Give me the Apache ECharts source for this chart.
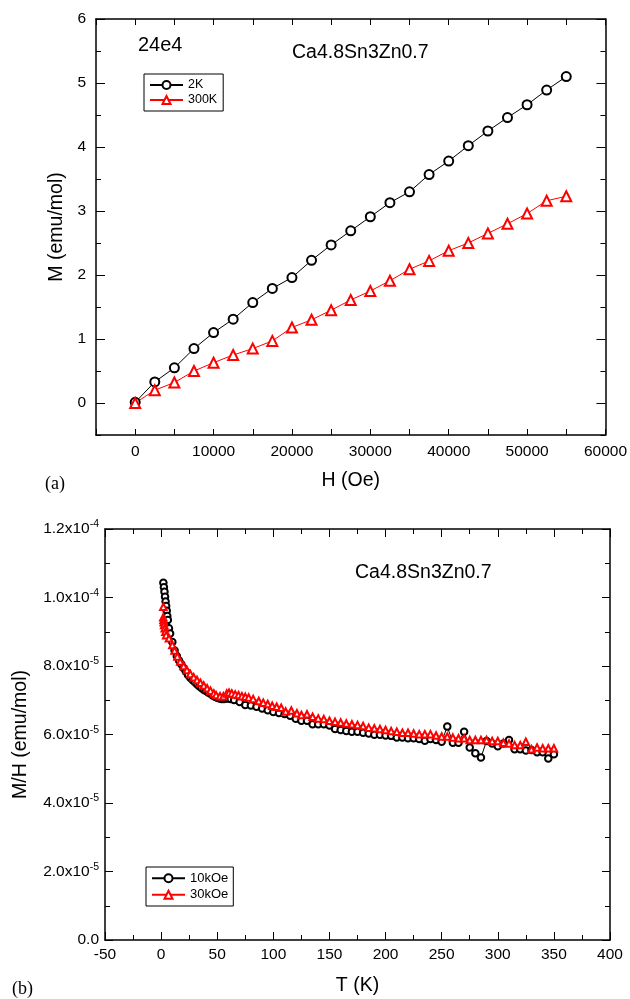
<!DOCTYPE html>
<html><head><meta charset="utf-8">
<script src="https://cdn.jsdelivr.net/npm/echarts@6/dist/echarts.min.js"></script>
<style>html,body{margin:0;padding:0;background:#fff}#c{width:630px;height:999px}</style>
</head><body><div id="c"></div>
<script>
// ---------- (a) M vs H ----------
const H_Oe = [0, 2500, 5000, 7500, 10000, 12500, 15000, 17500, 20000, 22500, 25000, 27500,
  30000, 32500, 35000, 37500, 40000, 42500, 45000, 47500, 50000, 52500, 55000];
const M_2K = [0.01, 0.33, 0.55, 0.85, 1.10, 1.31, 1.57, 1.79, 1.96, 2.23, 2.47, 2.69,
  2.91, 3.13, 3.30, 3.57, 3.78, 4.02, 4.25, 4.46, 4.66, 4.89, 5.10];
const M_300K = [0.00, 0.20, 0.32, 0.50, 0.63, 0.75, 0.85, 0.97, 1.18, 1.30, 1.45, 1.61,
  1.75, 1.91, 2.09, 2.22, 2.38, 2.50, 2.65, 2.80, 2.96, 3.16, 3.23];
const A_Y_MAJOR = [0, 1, 2, 3, 4, 5, 6];
const A_Y_MINOR = [-0.5, 0.5, 1.5, 2.5, 3.5, 4.5, 5.5];

// ---------- (b) M/H vs T (values in units of 1e-5 emu/mol) ----------
const T_10kOe = [2, 2.5, 3, 3.5, 4, 4.5, 5, 5.5, 6, 7, 8, 10, 12, 14, 16, 18, 20, 22, 24, 26, 28,
  30, 32, 34, 36, 38, 40, 42, 44, 46, 48, 50, 52, 54, 56, 58, 60, 62, 65, 70, 75, 80, 85, 90, 95,
  100, 105, 110, 115, 120,
  125, 130, 135, 140, 145, 150, 155, 160, 165, 170, 175, 180, 185, 190, 195, 200, 205, 210, 215,
  220, 225, 230, 235, 240, 245, 250, 255, 260, 265, 270, 275, 280, 285, 290, 295, 300, 305, 310,
  315, 320, 325, 330, 335, 340, 345, 350];
const MH_10kOe = [10.43, 10.30, 10.17, 10.02, 9.88, 9.75, 9.61, 9.46, 9.34, 9.10, 8.95, 8.70, 8.45,
  8.29, 8.16, 8.05, 7.94, 7.84, 7.74, 7.66, 7.59, 7.53, 7.47, 7.41, 7.36, 7.31, 7.27, 7.23, 7.19,
  7.14, 7.10, 7.07, 7.05, 7.04, 7.04, 7.05, 7.05, 7.04, 7.01, 6.95, 6.86, 6.85, 6.81, 6.76, 6.71,
  6.66, 6.63, 6.60, 6.55, 6.46,
  6.40, 6.40, 6.30, 6.30, 6.30, 6.26, 6.16, 6.13, 6.10, 6.08, 6.08, 6.05, 6.03, 5.99, 5.99, 5.97,
  5.96, 5.91, 5.91, 5.89, 5.89, 5.87, 5.82, 5.87, 5.84, 5.79, 6.23, 5.76, 5.76, 6.08, 5.62, 5.45,
  5.33, 5.81, 5.74, 5.66, 5.74, 5.84, 5.57, 5.57, 5.53, 5.55, 5.48, 5.48, 5.30, 5.42];
const T_30kOe = [2, 1.9, 2.1, 2.4, 2.7, 3.2, 3.8, 4.5, 7, 10, 12, 14.5, 17, 20, 23, 26, 29, 32,
  35, 38, 41, 44, 47, 49, 52.5, 55.5, 58.5, 60.5, 63, 66, 69, 72, 75, 78, 82, 87, 91, 95,
  99, 103, 107, 111, 116, 121,
  125, 130, 135, 140, 145, 150, 155, 160, 165, 170, 175, 180, 185, 190, 195, 200, 205, 210, 215,
  220, 225, 230, 235, 240, 245, 250, 255, 260, 265, 270, 275, 280, 285, 290, 295, 300, 305, 310,
  315, 320, 325, 330, 335, 340, 345, 350];
const MH_30kOe = [9.73, 9.42, 9.34, 9.28, 9.20, 9.10, 9.00, 8.90, 8.81, 8.61, 8.45, 8.28, 8.13,
  8.00, 7.88, 7.77, 7.67, 7.59, 7.51, 7.43, 7.35, 7.28, 7.20, 7.15, 7.12, 7.12, 7.20, 7.22,
  7.20, 7.17, 7.15, 7.12, 7.10, 7.08, 7.04, 6.98, 6.93, 6.89, 6.84, 6.81, 6.78, 6.67, 6.70, 6.62,
  6.57, 6.59, 6.52, 6.47, 6.45, 6.40, 6.37, 6.35, 6.32, 6.30, 6.28, 6.25, 6.20, 6.18, 6.16, 6.13,
  6.10, 6.08, 6.05, 6.05, 6.03, 6.01, 6.01, 6.01, 5.97, 5.94, 5.94, 5.91, 5.89, 5.89, 5.84, 5.84,
  5.84, 5.84, 5.81, 5.81, 5.76, 5.74, 5.69, 5.69, 5.79, 5.57, 5.62, 5.60, 5.60, 5.60];
const B_Y_TICKS = [0, 2, 4, 6, 8, 10, 12];
const B_Y_MANT = ['0.0', '2.0', '4.0', '6.0', '8.0', '1.0', '1.2'];
const B_Y_EXP = ['', '-5', '-5', '-5', '-5', '-4', '-4'];

const FONT = '"Liberation Sans", Arial, sans-serif';
const SERIF = '"Liberation Serif", "Times New Roman", serif';
const BLACK = '#000', RED = '#ff0000';

function lineAx(extra) {
  const base = {
    type: 'value',
    axisLine: { show: true, onZero: false, lineStyle: { color: BLACK, width: 1.5 } },
    axisTick: { show: true, inside: true, length: 6, lineStyle: { color: BLACK, width: 1 } },
    splitLine: { show: false },
    axisLabel: { show: false }
  };
  const o = Object.assign(base, extra);
  o.axisLine = Object.assign({ onZero: false }, o.axisLine);
  return o;
}
const tickLabel = { color: BLACK, fontSize: 15.5, fontFamily: FONT };
const nameStyle = { color: BLACK, fontSize: 19.5, fontFamily: FONT };
const tk = (len, vals) => {
  const t = { show: true, inside: true, length: len, lineStyle: { color: BLACK, width: 1 } };
  if (vals) t.customValues = vals;
  return t;
};
const mtk = { show: true, splitNumber: 2, length: 5, lineStyle: { color: BLACK, width: 1 } };
const hiddenLine = { show: false, onZero: false };

const chart = echarts.init(document.getElementById('c'), null, { renderer: 'canvas' });
const option = {
  animation: false,
  backgroundColor: '#fff',
  grid: [
    { left: 96, top: 19, width: 512, height: 416 },
    { left: 105, top: 529, width: 505, height: 411 }
  ],
  xAxis: [
    lineAx({ gridIndex: 0, position: 'bottom', min: -5000, max: 60000, interval: 5000,
      axisLabel: Object.assign({ show: true, margin: 9,
        formatter: v => (v % 10000 === 0 ? String(v) : '') }, tickLabel),
      name: 'H (Oe)', nameLocation: 'middle', nameGap: 36, nameTextStyle: nameStyle }),
    lineAx({ gridIndex: 0, position: 'top', min: -5000, max: 60000, interval: 5000 }),
    lineAx({ gridIndex: 1, position: 'bottom', min: -50, max: 400, interval: 50,
      axisTick: tk(8), minorTick: mtk,
      axisLabel: Object.assign({ show: true, margin: 6.5 }, tickLabel),
      name: 'T (K)', nameLocation: 'middle', nameGap: 36, nameTextStyle: nameStyle }),
    lineAx({ gridIndex: 1, position: 'top', min: -50, max: 400, interval: 50,
      axisTick: tk(8), minorTick: mtk })
  ],
  yAxis: [
    lineAx({ gridIndex: 0, position: 'left', min: -0.5, max: 6,
      axisTick: tk(9, A_Y_MAJOR),
      axisLabel: Object.assign({ show: true, margin: 10, customValues: A_Y_MAJOR }, tickLabel),
      name: 'M (emu/mol)', nameLocation: 'middle', nameGap: 28, nameRotate: 90, nameTextStyle: nameStyle }),
    lineAx({ gridIndex: 0, position: 'right', min: -0.5, max: 6, axisTick: tk(9, A_Y_MAJOR) }),
    lineAx({ gridIndex: 0, position: 'left', min: -0.5, max: 6, axisLine: hiddenLine,
      axisTick: tk(5, A_Y_MINOR) }),
    lineAx({ gridIndex: 0, position: 'right', min: -0.5, max: 6, axisLine: hiddenLine,
      axisTick: tk(5, A_Y_MINOR) }),
    lineAx({ gridIndex: 1, position: 'left', min: 0, max: 12, interval: 2,
      axisTick: tk(8), minorTick: mtk,
      axisLabel: { show: true, margin: 6,
        formatter: v => {
          const i = B_Y_TICKS.indexOf(Math.round(v));
          if (i < 0) return '';
          return B_Y_EXP[i] ? '{m|' + B_Y_MANT[i] + 'x10}{e|' + B_Y_EXP[i] + '}' : '{m|' + B_Y_MANT[i] + '}';
        },
        rich: {
          m: { color: BLACK, fontSize: 15.5, fontFamily: FONT },
          e: { color: BLACK, fontSize: 10.5, fontFamily: FONT, padding: [0, 0, 9, 0] }
        } },
      name: 'M/H (emu/mol)', nameLocation: 'middle', nameGap: 74, nameRotate: 90, nameTextStyle: nameStyle }),
    lineAx({ gridIndex: 1, position: 'right', min: 0, max: 12, interval: 2,
      axisTick: tk(8), minorTick: mtk })
  ],
  legend: [
    { data: ['2K', '300K'], orient: 'vertical', left: 144, top: 74,
      itemWidth: 33, itemHeight: 10, itemGap: 2, padding: [4.5, 6, 4.5, 5],
      borderColor: BLACK, borderWidth: 1, backgroundColor: '#fff', borderRadius: 0,
      textStyle: { color: BLACK, fontSize: 12.5, fontFamily: FONT, lineHeight: 13 } },
    { data: ['10kOe', '30kOe'], orient: 'vertical', left: 146, top: 867,
      itemWidth: 33, itemHeight: 10, itemGap: 2, padding: [4, 5, 4, 5],
      borderColor: BLACK, borderWidth: 1, backgroundColor: '#fff', borderRadius: 0,
      textStyle: { color: BLACK, fontSize: 13, fontFamily: FONT, lineHeight: 14.5 } }
  ],
  series: [
    { name: '2K', type: 'line', xAxisIndex: 0, yAxisIndex: 0,
      data: H_Oe.map((h, i) => [h, M_2K[i]]),
      symbol: 'emptyCircle', symbolSize: 9, color: BLACK,
      lineStyle: { color: BLACK, width: 1 }, itemStyle: { color: BLACK, borderWidth: 1 } },
    { name: '300K', type: 'line', xAxisIndex: 0, yAxisIndex: 0,
      data: H_Oe.map((h, i) => [h, M_300K[i]]),
      symbol: 'emptyTriangle', symbolSize: 10, color: RED,
      lineStyle: { color: RED, width: 1 }, itemStyle: { color: RED, borderWidth: 1 } },
    { name: '10kOe', type: 'line', xAxisIndex: 2, yAxisIndex: 4,
      data: T_10kOe.map((t, i) => [t, MH_10kOe[i]]),
      symbol: 'emptyCircle', symbolSize: 6.5, color: BLACK,
      lineStyle: { color: BLACK, width: 1 }, itemStyle: { color: BLACK, borderWidth: 1 } },
    { name: '30kOe', type: 'line', xAxisIndex: 2, yAxisIndex: 4,
      data: T_30kOe.map((t, i) => [t, MH_30kOe[i]]),
      symbol: 'emptyTriangle', symbolSize: 6.5, color: RED,
      lineStyle: { color: RED, width: 1 }, itemStyle: { color: RED, borderWidth: 1 } }
  ],
  graphic: [
    { type: 'text', x: 138, y: 45, style: { text: '24e4', font: '20px ' + FONT, fill: BLACK, verticalAlign: 'middle' } },
    { type: 'text', x: 292, y: 52.5, style: { text: 'Ca4.8Sn3Zn0.7', font: '19.5px ' + FONT, fill: BLACK, verticalAlign: 'middle' } },
    { type: 'text', x: 355, y: 573, style: { text: 'Ca4.8Sn3Zn0.7', font: '19.5px ' + FONT, fill: BLACK, verticalAlign: 'middle' } },
    { type: 'text', x: 45, y: 484.5, style: { text: '(a)', font: '18px ' + SERIF, fill: BLACK, verticalAlign: 'middle' } },
    { type: 'text', x: 12, y: 989, style: { text: '(b)', font: '18px ' + SERIF, fill: BLACK, verticalAlign: 'middle' } }
  ]
};
chart.setOption(option);
</script>
</body></html>
